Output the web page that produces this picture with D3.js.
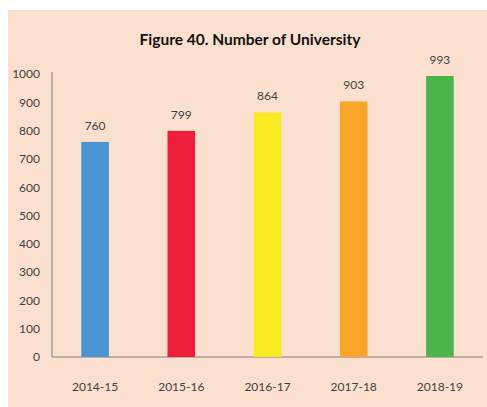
<!DOCTYPE html>
<html>
<head>
<meta charset="utf-8">
<script src="https://cdn.jsdelivr.net/npm/d3@7"></script>
<style>
  html, body { margin: 0; padding: 0; background: #ffffff; }
  svg { display: block; }
</style>
</head>
<body>
<div id="chart"></div>
<script>
// data
const years = ["2014-15", "2015-16", "2016-17", "2017-18", "2018-19"];
const universities = [760, 799, 864, 903, 993];
const barColors = ["#4a94d1", "#ec1f3b", "#fbe921", "#f8a52a", "#4bb549"];
const yTicks = [0, 100, 200, 300, 400, 500, 600, 700, 800, 900, 1000];

const width = 487, height = 407;
const margin = { top: 74, right: 4, bottom: 50, left: 52 };

const svg = d3.select("#chart").append("svg")
    .attr("width", width)
    .attr("height", height);

// peach panel
svg.append("rect")
    .attr("x", 8).attr("y", 10)
    .attr("width", width - 8).attr("height", height - 10)
    .attr("fill", "#fce0cf");

const x = d3.scaleBand()
    .domain(years)
    .range([margin.left, width - margin.right])
    .paddingInner(0.68)
    .paddingOuter(0.34);

const y = d3.scaleLinear()
    .domain([0, 1000])
    .range([height - margin.bottom, margin.top]);

const font = "Lato, 'Open Sans', sans-serif";
const textColor = "#404040";

// title
svg.append("text")
    .attr("x", 250).attr("y", 45)
    .attr("text-anchor", "middle")
    .style("font-family", font)
    .style("font-weight", "bold")
    .style("font-size", "15.5px")
    .attr("fill", "#111")
    .text("Figure 40. Number of University");

// y axis
const yAxis = svg.append("g")
    .attr("transform", `translate(${margin.left},0)`)
    .call(d3.axisLeft(y).tickValues(yTicks).tickFormat(d3.format("d")).tickSize(0).tickPadding(12));
yAxis.select(".domain").attr("stroke", "#7f7f7f").attr("d", `M0,${y(0)}V${y(1000) - 2}`);
yAxis.selectAll("text")
    .style("font-family", font).style("font-size", "12px").attr("fill", textColor);

// x axis
const xAxis = svg.append("g")
    .attr("transform", `translate(0,${y(0)})`)
    .call(d3.axisBottom(x).tickSize(0).tickPadding(25));
xAxis.select(".domain").attr("stroke", "#7f7f7f")
    .attr("d", `M${margin.left},0H${width - margin.right}`);
xAxis.selectAll("text")
    .style("font-family", font).style("font-size", "12px").attr("fill", textColor);

// bars
svg.append("g")
    .selectAll("rect")
    .data(universities)
    .enter().append("rect")
    .attr("x", (d, i) => x(years[i]))
    .attr("y", d => y(d))
    .attr("width", x.bandwidth())
    .attr("height", d => y(0) - y(d))
    .attr("fill", (d, i) => barColors[i]);

// value labels
svg.append("g")
    .selectAll("text")
    .data(universities)
    .enter().append("text")
    .attr("x", (d, i) => x(years[i]) + x.bandwidth() / 2)
    .attr("y", d => y(d) - 12)
    .attr("text-anchor", "middle")
    .style("font-family", font)
    .style("font-size", "12px")
    .attr("fill", textColor)
    .text(d => d);
</script>
</body>
</html>
